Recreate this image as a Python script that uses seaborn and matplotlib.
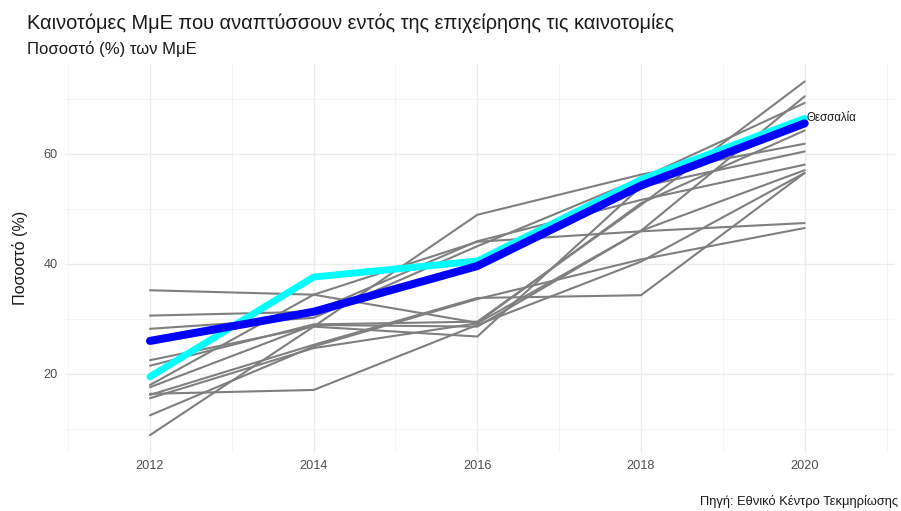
import pandas as pd
import numpy as np
import matplotlib
matplotlib.use("Agg")
import matplotlib.pyplot as plt
import seaborn as sns
from matplotlib.ticker import MultipleLocator

# Δεδομένα (εκτίμηση από την εικόνα)
years = [2012, 2014, 2016, 2018, 2020]

regions = ['Ανατολική Μακεδονία και Θράκη', 'Κεντρική Μακεδονία', 'Δυτική Μακεδονία',
           'Ήπειρος', 'Ιόνια Νησιά', 'Δυτική Ελλάδα', 'Στερεά Ελλάδα', 'Αττική',
           'Πελοπόννησος', 'Βόρειο Αιγαίο', 'Νότιο Αιγαίο', 'Κρήτη']

other_values = [
    [35.2, 34.4, 29.3, 51.0, 64.2],
    [30.6, 31.3, 44.1, 51.6, 58.0],
    [28.2, 30.2, 43.2, 55.5, 69.2],
    [22.5, 28.6, 48.9, 56.2, 61.8],
    [21.5, 29.0, 29.5, 50.7, 73.1],
    [18.0, 34.4, 44.0, 45.9, 47.4],
    [16.4, 17.1, 28.9, 40.4, 56.5],
    [16.2, 25.3, 33.8, 34.3, 56.5],
    [15.6, 24.7, 29.2, 46.0, 70.4],
    [12.5, 25.0, 33.6, 40.8, 46.5],
    [8.9, 28.6, 26.8, 54.0, 60.4],
    [17.6, 28.9, 28.6, 46.0, 57.0],
]

thessaly = [19.5, 37.6, 40.5, 55.3, 66.4]
greece = [26.0, 31.3, 39.6, 54.2, 65.5]

title = 'Καινοτόμες ΜμΕ που αναπτύσσουν εντός της επιχείρησης τις καινοτομίες'
subtitle = 'Ποσοστό (%) των ΜμΕ'
caption = 'Πηγή: Εθνικό Κέντρο Τεκμηρίωσης'

# Μορφή long για seaborn
rows = []
for reg, vals in zip(regions, other_values):
    for y, v in zip(years, vals):
        rows.append({'year': y, 'value': v, 'region': reg})
df = pd.DataFrame(rows)
df_thes = pd.DataFrame({'year': years, 'value': thessaly})
df_gr = pd.DataFrame({'year': years, 'value': greece})

sns.set_style('white')
plt.rcParams['font.family'] = ['Liberation Sans', 'DejaVu Sans']

fig = plt.figure(figsize=(9.01, 5.11), dpi=100)
ax = fig.add_axes([0.072, 0.114, 0.921, 0.761])

sns.lineplot(data=df, x='year', y='value', hue='region',
             palette=['#7f7f7f'] * len(regions), linewidth=1.5,
             legend=False, ax=ax)
sns.lineplot(data=df_thes, x='year', y='value', color='#00ffff',
             linewidth=5.0, ax=ax)
sns.lineplot(data=df_gr, x='year', y='value', color='#0000ff',
             linewidth=5.8, ax=ax)

ax.text(years[-1] + 0.02, thessaly[-1], 'Θεσσαλία', fontsize=8.3,
        ha='left', va='center', color='#1a1a1a')

ax.set_xlim(2010.96, 2021.1)
ax.set_ylim(5.7, 76.3)
ax.xaxis.set_major_locator(MultipleLocator(2))
ax.xaxis.set_minor_locator(MultipleLocator(1))
ax.yaxis.set_major_locator(MultipleLocator(20))
ax.yaxis.set_minor_locator(MultipleLocator(10))
ax.set_xticks(years)
ax.grid(True, which='major', color='#ebebeb', linewidth=1.0)
ax.grid(True, which='minor', color='#f2f2f2', linewidth=0.6)
ax.set_axisbelow(True)
for s in ax.spines.values():
    s.set_visible(False)
ax.tick_params(axis='both', which='both', length=0, labelsize=9.2,
               labelcolor='#4d4d4d', pad=5)
ax.set_xlabel('')
ax.set_ylabel('Ποσοστό (%)', fontsize=11.6, color='#1a1a1a', labelpad=11)

fig.text(0.03, 0.955, title, fontsize=14.4, color='#1a1a1a', ha='left', va='center')
fig.text(0.03, 0.905, subtitle, fontsize=12, color='#1a1a1a', ha='left', va='center')
fig.text(0.997, 0.018, caption, fontsize=9.3, color='#1a1a1a', ha='right', va='center')

fig.savefig('out.png', dpi=100)
